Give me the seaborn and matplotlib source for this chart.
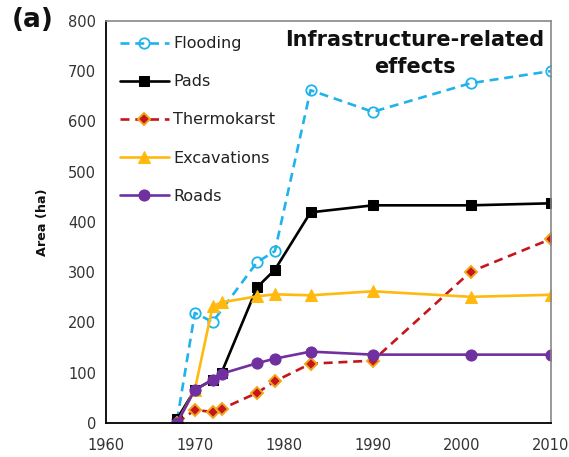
import matplotlib
matplotlib.use("Agg")
import matplotlib.pyplot as plt
import seaborn as sns

sns.set_theme(style="white")
plt.rcParams["font.family"] = ["DejaVu Sans"]

# Infrastructure-related effects, area in hectares per survey year
flood_years = [1968, 1970, 1972, 1977, 1979, 1983, 1990, 2001, 2010]
flooding = [5, 219, 201, 320, 342, 662, 619, 676, 700]

years = [1968, 1970, 1972, 1973, 1977, 1979, 1983, 1990, 2001, 2010]
pads = [8, 66, 86, 100, 270, 305, 419, 433, 433, 437]
thermokarst = [0, 26, 22, 28, 60, 83, 118, 124, 301, 366]
roads = [0, 66, 86, 98, 119, 128, 142, 136, 136, 136]
excavations = [0, 66, 232, 240, 252, 256, 254, 262, 251, 255]

x_ticks = [1960, 1970, 1980, 1990, 2000, 2010]
y_ticks = [0, 100, 200, 300, 400, 500, 600, 700, 800]

fig = plt.figure(figsize=(5.69, 4.57), dpi=100)
ax = fig.add_axes([0.186, 0.0744, 0.782, 0.880])

lw = 1.9
sns.lineplot(x=flood_years, y=flooding, ax=ax, color="#1eb3ea", lw=lw,
             linestyle="--", marker="o", markersize=7.5, markerfacecolor="none",
             markeredgecolor="#1eb3ea", markeredgewidth=1.3, label="Flooding")
sns.lineplot(x=years, y=pads, ax=ax, color="black", lw=lw,
             marker="s", markersize=7, markeredgecolor="black", label="Pads")
sns.lineplot(x=years, y=thermokarst, ax=ax, color="#c4161c", lw=lw,
             linestyle="--", marker="D", markersize=6.5,
             markerfacecolor="#c4161c", markeredgecolor="#f2a51a",
             markeredgewidth=1.4, label="Thermokarst")
sns.lineplot(x=years, y=excavations, ax=ax, color="#ffb90f", lw=lw,
             marker="^", markersize=8.5, markeredgecolor="#ffb90f",
             label="Excavations")
sns.lineplot(x=years, y=roads, ax=ax, color="#7030a0", lw=lw,
             marker="o", markersize=8, markeredgecolor="#7030a0",
             label="Roads")

for line in ax.lines:
    if line.get_linestyle() == "--":
        line.set_dashes((3.4, 2.2))

ax.set_xlim(1960, 2010)
ax.set_ylim(0, 800)
ax.set_xticks(x_ticks)
ax.set_yticks(y_ticks)
ax.tick_params(axis="both", direction="in", length=4, width=1, colors="#333333",
               labelsize=10.5)
ax.tick_params(axis="y", pad=7)
ax.tick_params(axis="x", pad=11)
ax.set_xlabel("")
ax.set_ylabel("Area (ha)", fontsize=9.2, fontweight="bold", color="#111111")
ax.yaxis.set_label_coords(-0.128, 0.5)

for side in ("left", "bottom"):
    ax.spines[side].set_color("black")
    ax.spines[side].set_linewidth(1.3)
for side in ("top", "right"):
    ax.spines[side].set_color("#888888")
    ax.spines[side].set_linewidth(1.2)

leg = ax.legend(loc="upper left", frameon=False, fontsize=11.5,
                handlelength=3.1, labelspacing=1.45, handletextpad=0.25,
                borderpad=0, borderaxespad=0, bbox_to_anchor=(0.031, 0.962))
for text in leg.get_texts():
    text.set_color("#222222")

ax.text(0.694, 0.976, "Infrastructure-related\neffects", transform=ax.transAxes,
        ha="center", va="top", fontsize=15, fontweight="bold",
        linespacing=1.4, color="#111111")

fig.text(0.021, 0.985, "(a)", ha="left", va="top", fontsize=19,
         fontweight="bold", color="#111111")

fig.savefig("out.png", dpi=100)
